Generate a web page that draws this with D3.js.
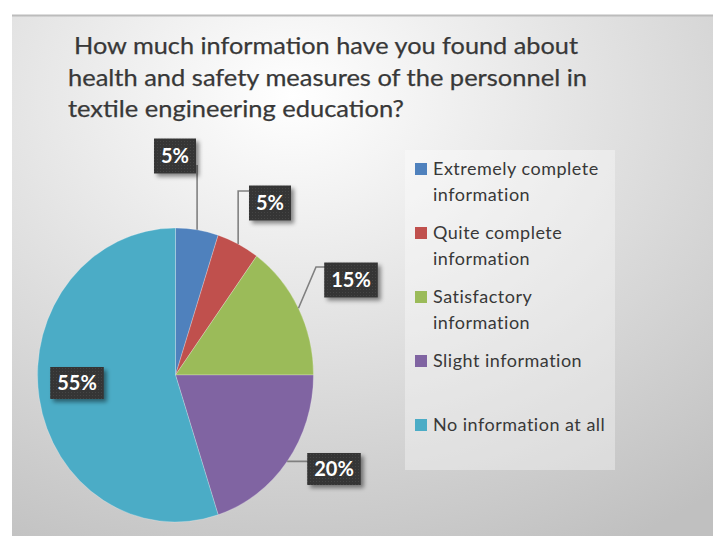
<!DOCTYPE html>
<html><head><meta charset="utf-8">
<script src="https://cdn.jsdelivr.net/npm/d3@7"></script>
<style>body{margin:0;background:#fff;overflow:hidden}</style>
</head><body><svg id="c" width="722" height="536"></svg>
<script>
// ---- data ----
const categories = ["Extremely complete information","Quite complete information","Satisfactory information","Slight information","No information at all"];
const legendLines = [["Extremely complete","information"],["Quite complete","information"],["Satisfactory","information"],["Slight information"],["No information at all"]];
const values = [5, 5, 15, 20, 55];
const valueLabels = ["5%", "5%", "15%", "20%", "55%"];
const titleLines = ["How much information have you found about","health and safety measures of the personnel in","textile engineering education?"];

// ---- style / layout ----
const colors = ["#4F81BD","#C0504D","#9BBB59","#8064A2","#4BACC6"];
const FONT = "Lato, 'Open Sans', sans-serif";
const cx = 175.5, cy = 375, rx = 138, ry = 147;
const labelPos = [{x:175,y:156},{x:270,y:203},{x:351,y:280},{x:334,y:469},{x:77,y:383}];
const elbow3 = {x:316,y:267};

const svg = d3.select("#c");
const defs = svg.append("defs");
const bg = defs.append("radialGradient").attr("id","bg")
  .attr("cx","40%").attr("cy","15%").attr("r","95%").attr("fx","40%").attr("fy","15%");
bg.append("stop").attr("offset","0%").attr("stop-color","#ffffff");
bg.append("stop").attr("offset","100%").attr("stop-color","#c0c0c0");
const sh = defs.append("filter").attr("id","sh").attr("x","-30%").attr("y","-30%").attr("width","170%").attr("height","170%");
sh.append("feDropShadow").attr("dx",3).attr("dy",3).attr("stdDeviation",2)
  .attr("flood-color","#000").attr("flood-opacity",0.45);
const pat = defs.append("pattern").attr("id","dots").attr("width",3).attr("height",3).attr("patternUnits","userSpaceOnUse");
pat.append("rect").attr("width",3).attr("height",3).attr("fill","#363636");
pat.append("rect").attr("width",1).attr("height",1).attr("fill","#444");

// background
svg.append("rect").attr("x",12).attr("y",15).attr("width",701).attr("height",540)
  .attr("fill","url(#bg)");
svg.append("line").attr("x1",12).attr("x2",713).attr("y1",15.5).attr("y2",15.5)
  .attr("stroke","#bcbcbc").attr("stroke-width",2);

// title
svg.append("g").selectAll("text").data(titleLines).join("text")
  .attr("x",(d,i)=> i===0 ? 74 : 68)
  .attr("y",(d,i)=> 54 + i*31.5)
  .attr("font-family",FONT).attr("font-size",24).attr("fill","#383838")
  .attr("stroke","#383838").attr("stroke-width",0.25)
  .attr("textLength",(d,i)=>[504,519,336][i]).attr("lengthAdjust","spacingAndGlyphs")
  .text(d=>d);

// pie
const pie = d3.pie().sort(null).value(d=>d)(values);
const arc = d3.arc().innerRadius(0).outerRadius(rx);
svg.append("g").attr("transform",`translate(${cx},${cy}) scale(1,${ry/rx})`)
  .selectAll("path").data(pie).join("path")
  .attr("d",arc).attr("fill",(d,i)=>colors[i])
  .attr("stroke","#ffffff").attr("stroke-opacity",0.4).attr("stroke-width",0.6);

// leader lines
const lg = svg.append("g");
pie.forEach((d,i)=>{
  const a = (d.startAngle + d.endAngle)/2;
  const x0 = cx + rx*Math.sin(a), y0 = cy - ry*Math.cos(a);
  const lp = labelPos[i];
  let pts = null;
  if (i===0) pts = [[x0,y0],[x0,lp.y+9]];
  else if (i===1) pts = [[x0,y0],[x0,191],[lp.x,191]];
  else if (i===2) pts = [[x0,y0],[elbow3.x,elbow3.y],[lp.x,elbow3.y]];
  else if (i===3) pts = [[x0,y0],[lp.x,y0]];
  if (pts) lg.append("path").attr("d",d3.line()(pts)).attr("fill","none")
      .attr("stroke","#808080").attr("stroke-width",1.6);
});

// data labels
const lab = svg.append("g").selectAll("g").data(valueLabels).join("g")
  .attr("transform",(d,i)=>`translate(${labelPos[i].x},${labelPos[i].y})`);
lab.each(function(d,i){
  const g = d3.select(this);
  const rect = g.append("rect").attr("fill","url(#dots)").attr("filter","url(#sh)");
  const t = g.append("text").attr("text-anchor","middle").attr("dy","0.36em")
    .attr("font-family",FONT).attr("font-weight",700).attr("font-size",20)
    .attr("fill","#ffffff").text(d);
  const w = t.node().getComputedTextLength() + 14, h = (i===3||i===4)?32:35;
  rect.attr("x",-w/2).attr("y",-h/2).attr("width",w).attr("height",h);
});

// legend
svg.append("rect").attr("x",405).attr("y",150).attr("width",210).attr("height",320)
  .attr("fill","#ffffff").attr("fill-opacity",0.35);
const leg = svg.append("g").selectAll("g").data(categories).join("g")
  .attr("transform",(d,i)=>`translate(0,${175 + i*64})`);
leg.append("rect").attr("x",415).attr("y",-12).attr("width",12).attr("height",12)
  .attr("fill",(d,i)=>colors[i]);
leg.each(function(d,i){
  d3.select(this).selectAll("text").data(legendLines[i]).join("text")
    .attr("x",433).attr("y",(t,j)=>j*26)
    .attr("font-family",FONT).attr("font-size",18).attr("letter-spacing",0.5)
    .attr("fill","#383838")
    .text(t=>t);
});
</script></body></html>
